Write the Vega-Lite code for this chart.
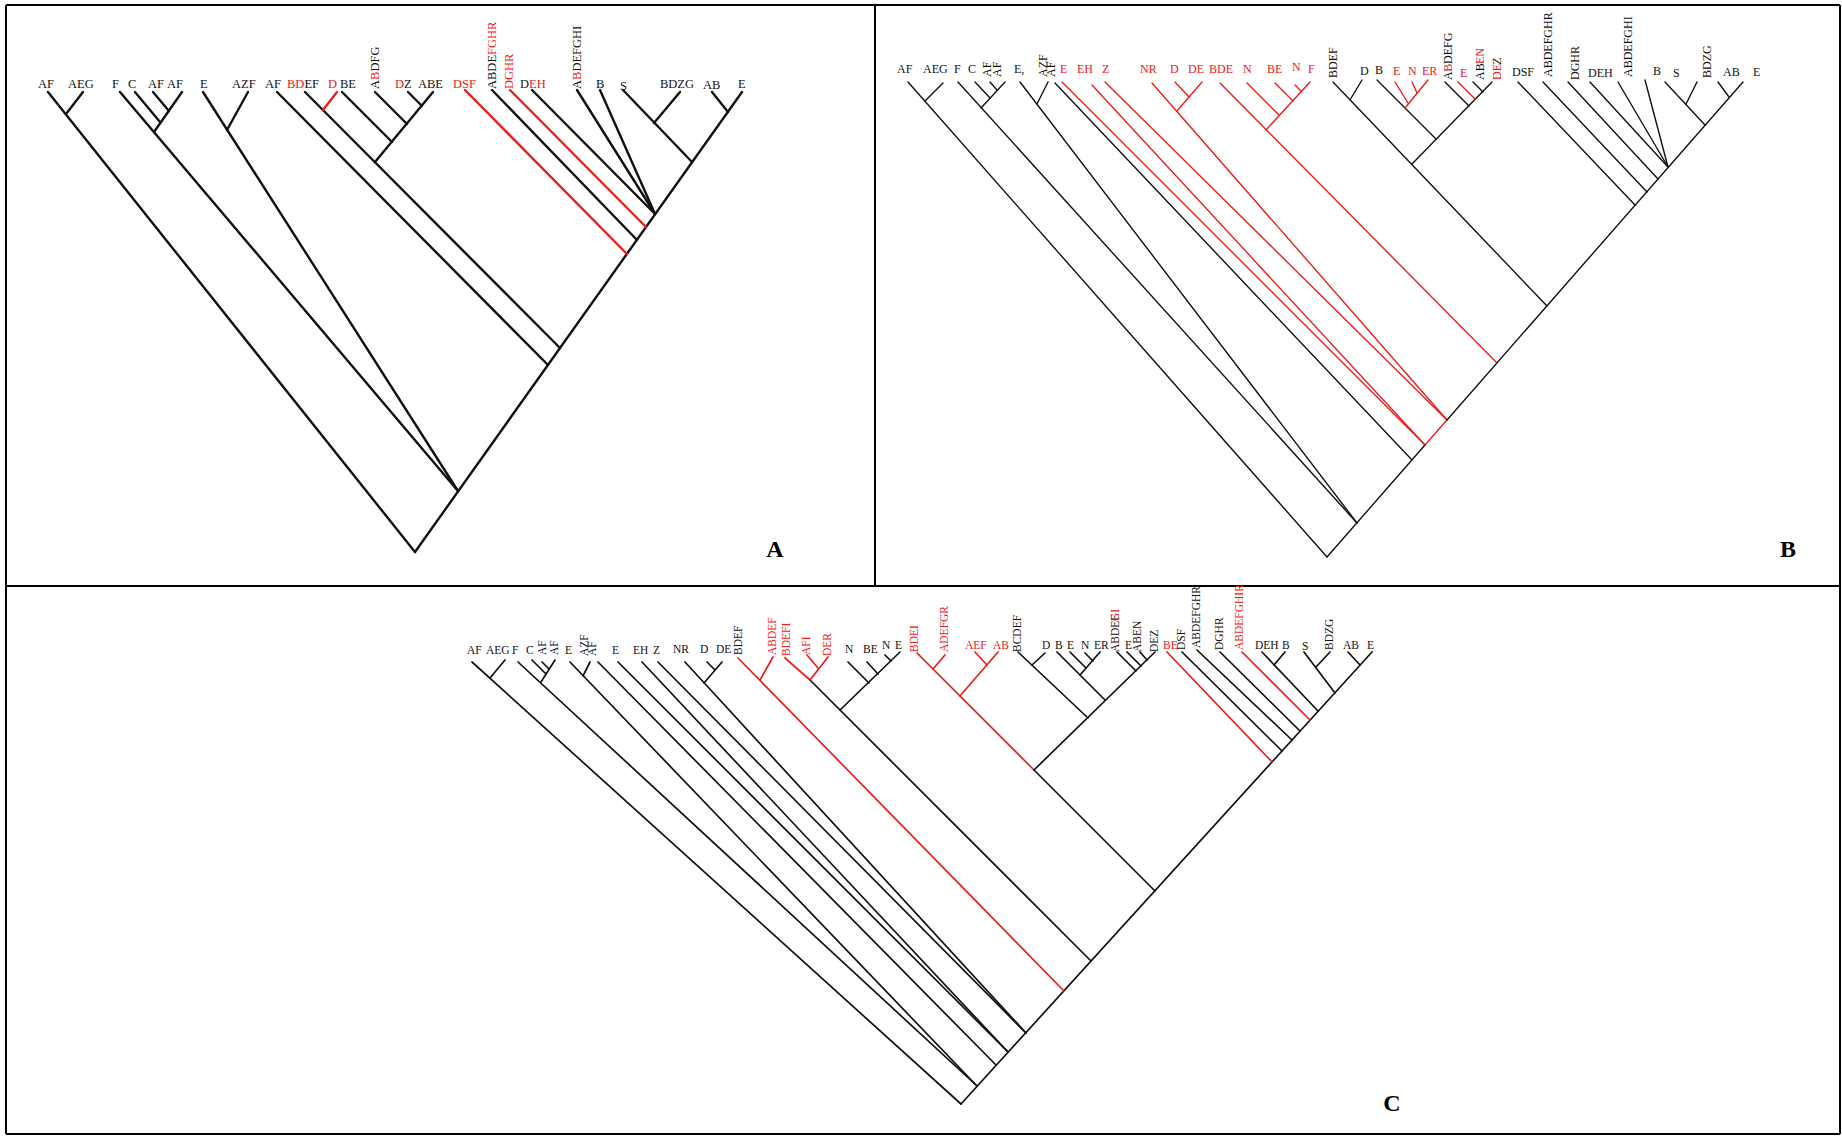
{
"$schema":"https://vega.github.io/schema/vega-lite/v6.json",
"width":1842,"height":1136,
"autosize":{"type":"fit","contains":"padding"},
"padding":0,
"background":"white",
"config":{"view":{"stroke":null}},
"datasets":{
"frame":[
{"x":6,"y":5,"x2":1840,"y2":5},{"x":6,"y":1134,"x2":1840,"y2":1134},
{"x":6,"y":5,"x2":6,"y2":1134},{"x":1840,"y":5,"x2":1840,"y2":1134},
{"x":875,"y":5,"x2":875,"y2":586},{"x":6,"y":586,"x2":1840,"y2":586}
],
"letters":[{"t":"A","x":775,"y":550},{"t":"B","x":1788,"y":550},{"t":"C","x":1392,"y":1104}],
"segs":[
{"p":"A","x":48,"y":92,"x2":415,"y2":552,"c":"k"},
{"p":"A","x":415,"y":552,"x2":742,"y2":92,"c":"k"},
{"p":"A","x":83,"y":92,"x2":66,"y2":114,"c":"k"},
{"p":"A","x":120,"y":92,"x2":458,"y2":491,"c":"k"},
{"p":"A","x":135,"y":92,"x2":160,"y2":122,"c":"k"},
{"p":"A","x":153,"y":92,"x2":169,"y2":111,"c":"k"},
{"p":"A","x":182,"y":92,"x2":154,"y2":132,"c":"k"},
{"p":"A","x":203,"y":92,"x2":458,"y2":491,"c":"k"},
{"p":"A","x":248,"y":92,"x2":227,"y2":130,"c":"k"},
{"p":"A","x":277,"y":92,"x2":548,"y2":365,"c":"k"},
{"p":"A","x":305,"y":92,"x2":560,"y2":348,"c":"k"},
{"p":"A","x":337,"y":92,"x2":323,"y2":110,"c":"r"},
{"p":"A","x":433,"y":92,"x2":375,"y2":162,"c":"k"},
{"p":"A","x":342,"y":92,"x2":392,"y2":142,"c":"k"},
{"p":"A","x":375,"y":92,"x2":407,"y2":124,"c":"k"},
{"p":"A","x":408,"y":92,"x2":422,"y2":106,"c":"k"},
{"p":"A","x":465,"y":90,"x2":627,"y2":254,"c":"r"},
{"p":"A","x":492,"y":90,"x2":637,"y2":240,"c":"k"},
{"p":"A","x":510,"y":90,"x2":646,"y2":227,"c":"r"},
{"p":"A","x":532,"y":90,"x2":655,"y2":214,"c":"k"},
{"p":"A","x":577,"y":90,"x2":655,"y2":214,"c":"k"},
{"p":"A","x":600,"y":90,"x2":655,"y2":214,"c":"k"},
{"p":"A","x":623,"y":90,"x2":692,"y2":162,"c":"k"},
{"p":"A","x":680,"y":92,"x2":654,"y2":123,"c":"k"},
{"p":"A","x":712,"y":92,"x2":728,"y2":112,"c":"k"},
{"p":"B","x":908,"y":82,"x2":1327,"y2":557,"c":"k"},
{"p":"B","x":943,"y":83,"x2":925,"y2":101,"c":"k"},
{"p":"B","x":958,"y":82,"x2":1357,"y2":523,"c":"k"},
{"p":"B","x":975,"y":82,"x2":990,"y2":98,"c":"k"},
{"p":"B","x":990,"y":82,"x2":997,"y2":90,"c":"k"},
{"p":"B","x":1005,"y":82,"x2":981,"y2":108,"c":"k"},
{"p":"B","x":1020,"y":82,"x2":1357,"y2":523,"c":"k"},
{"p":"B","x":1048,"y":82,"x2":1037,"y2":104,"c":"k"},
{"p":"B","x":1055,"y":83,"x2":1412,"y2":460,"c":"k"},
{"p":"B","x":1062,"y":82,"x2":1425,"y2":445,"c":"r"},
{"p":"B","x":1092,"y":85,"x2":1425,"y2":445,"c":"r"},
{"p":"B","x":1105,"y":82,"x2":1447,"y2":420,"c":"r"},
{"p":"B","x":1152,"y":83,"x2":1447,"y2":420,"c":"r"},
{"p":"B","x":1202,"y":82,"x2":1177,"y2":111,"c":"r"},
{"p":"B","x":1175,"y":82,"x2":1189,"y2":97,"c":"r"},
{"p":"B","x":1220,"y":83,"x2":1497,"y2":363,"c":"r"},
{"p":"B","x":1310,"y":82,"x2":1266,"y2":130,"c":"r"},
{"p":"B","x":1247,"y":83,"x2":1279,"y2":115,"c":"r"},
{"p":"B","x":1275,"y":83,"x2":1293,"y2":101,"c":"r"},
{"p":"B","x":1295,"y":85,"x2":1301,"y2":91,"c":"r"},
{"p":"B","x":1333,"y":82,"x2":1547,"y2":306,"c":"k"},
{"p":"B","x":1362,"y":80,"x2":1350,"y2":100,"c":"k"},
{"p":"B","x":1492,"y":82,"x2":1412,"y2":164,"c":"k"},
{"p":"B","x":1377,"y":80,"x2":1436,"y2":139,"c":"k"},
{"p":"B","x":1428,"y":80,"x2":1405,"y2":108,"c":"r"},
{"p":"B","x":1412,"y":82,"x2":1417,"y2":93,"c":"r"},
{"p":"B","x":1395,"y":82,"x2":1408,"y2":103,"c":"r"},
{"p":"B","x":1445,"y":82,"x2":1469,"y2":106,"c":"k"},
{"p":"B","x":1458,"y":82,"x2":1475,"y2":99,"c":"r"},
{"p":"B","x":1473,"y":82,"x2":1483,"y2":92,"c":"k"},
{"p":"B","x":1518,"y":82,"x2":1635,"y2":205,"c":"k"},
{"p":"B","x":1543,"y":82,"x2":1647,"y2":192,"c":"k"},
{"p":"B","x":1568,"y":82,"x2":1658,"y2":179,"c":"k"},
{"p":"B","x":1590,"y":82,"x2":1668,"y2":167,"c":"k"},
{"p":"B","x":1618,"y":82,"x2":1668,"y2":167,"c":"k"},
{"p":"B","x":1645,"y":80,"x2":1668,"y2":167,"c":"k"},
{"p":"B","x":1665,"y":82,"x2":1705,"y2":125,"c":"k"},
{"p":"B","x":1697,"y":82,"x2":1686,"y2":104,"c":"k"},
{"p":"B","x":1718,"y":82,"x2":1729,"y2":97,"c":"k"},
{"p":"B","x":1327,"y":557,"x2":1425,"y2":445,"c":"k"},
{"p":"B","x":1425,"y":445,"x2":1447,"y2":420,"c":"r"},
{"p":"B","x":1447,"y":420,"x2":1743,"y2":82,"c":"k"},
{"p":"C","x":961,"y":1104,"x2":1372,"y2":652,"c":"k"},
{"p":"C","x":472,"y":662,"x2":961,"y2":1104,"c":"k"},
{"p":"C","x":505,"y":660,"x2":490,"y2":678,"c":"k"},
{"p":"C","x":518,"y":662,"x2":977,"y2":1086,"c":"k"},
{"p":"C","x":532,"y":660,"x2":546,"y2":674,"c":"k"},
{"p":"C","x":542,"y":662,"x2":549,"y2":669,"c":"k"},
{"p":"C","x":555,"y":660,"x2":541,"y2":682,"c":"k"},
{"p":"C","x":570,"y":662,"x2":977,"y2":1086,"c":"k"},
{"p":"C","x":590,"y":662,"x2":583,"y2":676,"c":"k"},
{"p":"C","x":598,"y":662,"x2":996,"y2":1065,"c":"k"},
{"p":"C","x":618,"y":662,"x2":1008,"y2":1052,"c":"k"},
{"p":"C","x":642,"y":662,"x2":1008,"y2":1052,"c":"k"},
{"p":"C","x":658,"y":662,"x2":1026,"y2":1033,"c":"k"},
{"p":"C","x":685,"y":662,"x2":1026,"y2":1033,"c":"k"},
{"p":"C","x":722,"y":662,"x2":704,"y2":683,"c":"k"},
{"p":"C","x":707,"y":662,"x2":715,"y2":670,"c":"k"},
{"p":"C","x":738,"y":658,"x2":1064,"y2":991,"c":"r"},
{"p":"C","x":773,"y":657,"x2":760,"y2":680,"c":"r"},
{"p":"C","x":785,"y":658,"x2":810,"y2":680,"c":"r"},
{"p":"C","x":810,"y":680,"x2":1091,"y2":961,"c":"k"},
{"p":"C","x":807,"y":655,"x2":818,"y2":668,"c":"r"},
{"p":"C","x":828,"y":657,"x2":810,"y2":680,"c":"r"},
{"p":"C","x":900,"y":652,"x2":840,"y2":710,"c":"k"},
{"p":"C","x":848,"y":662,"x2":869,"y2":683,"c":"k"},
{"p":"C","x":867,"y":662,"x2":878,"y2":674,"c":"k"},
{"p":"C","x":885,"y":655,"x2":891,"y2":661,"c":"k"},
{"p":"C","x":917,"y":653,"x2":1034,"y2":770,"c":"r"},
{"p":"C","x":1034,"y":770,"x2":1155,"y2":891,"c":"k"},
{"p":"C","x":945,"y":655,"x2":933,"y2":669,"c":"r"},
{"p":"C","x":998,"y":652,"x2":960,"y2":696,"c":"r"},
{"p":"C","x":975,"y":652,"x2":987,"y2":665,"c":"r"},
{"p":"C","x":1155,"y":652,"x2":1034,"y2":770,"c":"k"},
{"p":"C","x":1018,"y":652,"x2":1088,"y2":718,"c":"k"},
{"p":"C","x":1045,"y":653,"x2":1032,"y2":665,"c":"k"},
{"p":"C","x":1057,"y":652,"x2":1105,"y2":700,"c":"k"},
{"p":"C","x":1100,"y":652,"x2":1080,"y2":675,"c":"k"},
{"p":"C","x":1085,"y":653,"x2":1093,"y2":661,"c":"k"},
{"p":"C","x":1070,"y":652,"x2":1086,"y2":668,"c":"k"},
{"p":"C","x":1117,"y":652,"x2":1136,"y2":671,"c":"k"},
{"p":"C","x":1127,"y":652,"x2":1141,"y2":666,"c":"k"},
{"p":"C","x":1140,"y":652,"x2":1147,"y2":660,"c":"k"},
{"p":"C","x":1167,"y":652,"x2":1272,"y2":762,"c":"r"},
{"p":"C","x":1182,"y":652,"x2":1282,"y2":751,"c":"k"},
{"p":"C","x":1197,"y":650,"x2":1292,"y2":740,"c":"k"},
{"p":"C","x":1220,"y":652,"x2":1300,"y2":731,"c":"k"},
{"p":"C","x":1242,"y":652,"x2":1310,"y2":720,"c":"r"},
{"p":"C","x":1262,"y":652,"x2":1318,"y2":711,"c":"k"},
{"p":"C","x":1285,"y":652,"x2":1274,"y2":665,"c":"k"},
{"p":"C","x":1304,"y":652,"x2":1335,"y2":693,"c":"k"},
{"p":"C","x":1330,"y":652,"x2":1316,"y2":667,"c":"k"},
{"p":"C","x":1348,"y":652,"x2":1360,"y2":665,"c":"k"}
],
"labels":[
{"p":"A","t":"AF","x":38,"y":84,"o":"h","c":"k"},
{"p":"A","t":"AEG","x":68,"y":84,"o":"h","c":"k"},
{"p":"A","t":"F","x":112,"y":84,"o":"h","c":"k"},
{"p":"A","t":"C","x":128,"y":84,"o":"h","c":"k"},
{"p":"A","t":"AF","x":148,"y":84,"o":"h","c":"k"},
{"p":"A","t":"AF","x":167,"y":84,"o":"h","c":"k"},
{"p":"A","t":"E","x":200,"y":84,"o":"h","c":"k"},
{"p":"A","t":"AZF","x":232,"y":84,"o":"h","c":"k"},
{"p":"A","t":"AF","x":265,"y":84,"o":"h","c":"k"},
{"p":"A","t":"BD","x":287,"y":84,"o":"h","c":"r"},
{"p":"A","t":"EF","x":304.4,"y":84,"o":"h","c":"k"},
{"p":"A","t":"D","x":328,"y":84,"o":"h","c":"r"},
{"p":"A","t":"BE","x":340,"y":84,"o":"h","c":"k"},
{"p":"A","t":"A","x":375,"y":89,"o":"v","c":"k"},
{"p":"A","t":"B","x":375,"y":80,"o":"v","c":"r"},
{"p":"A","t":"DFG","x":375,"y":71.6,"o":"v","c":"k"},
{"p":"A","t":"D","x":395,"y":84,"o":"h","c":"r"},
{"p":"A","t":"Z","x":404,"y":84,"o":"h","c":"k"},
{"p":"A","t":"ABE","x":418,"y":84,"o":"h","c":"k"},
{"p":"A","t":"DSF","x":453,"y":84,"o":"h","c":"r"},
{"p":"A","t":"ABDE","x":492,"y":89,"o":"v","c":"k"},
{"p":"A","t":"FGHR","x":492,"y":55,"o":"v","c":"r"},
{"p":"A","t":"DGHR","x":509,"y":89,"o":"v","c":"r"},
{"p":"A","t":"D","x":520,"y":84,"o":"h","c":"k"},
{"p":"A","t":"EH","x":529,"y":84,"o":"h","c":"r"},
{"p":"A","t":"A","x":577,"y":89,"o":"v","c":"k"},
{"p":"A","t":"B","x":577,"y":80,"o":"v","c":"r"},
{"p":"A","t":"DEFGHI","x":577,"y":71.6,"o":"v","c":"k"},
{"p":"A","t":"B","x":596,"y":84,"o":"h","c":"k"},
{"p":"A","t":"S","x":620,"y":86,"o":"h","c":"k"},
{"p":"A","t":"BDZG","x":660,"y":84,"o":"h","c":"k"},
{"p":"A","t":"AB","x":703,"y":85,"o":"h","c":"k"},
{"p":"A","t":"E","x":738,"y":84,"o":"h","c":"k"},
{"p":"B","t":"AF","x":897,"y":69,"o":"h","c":"k"},
{"p":"B","t":"AEG","x":923,"y":69,"o":"h","c":"k"},
{"p":"B","t":"F","x":954,"y":69,"o":"h","c":"k"},
{"p":"B","t":"C","x":968,"y":69,"o":"h","c":"k"},
{"p":"B","t":"AF","x":987,"y":77,"o":"v","c":"k"},
{"p":"B","t":"AF","x":997,"y":77,"o":"v","c":"k"},
{"p":"B","t":"E,","x":1014,"y":69,"o":"h","c":"k"},
{"p":"B","t":"AZF","x":1043,"y":77,"o":"v","c":"k"},
{"p":"B","t":"AF","x":1051,"y":77,"o":"v","c":"k"},
{"p":"B","t":"E","x":1060,"y":69,"o":"h","c":"r"},
{"p":"B","t":"EH","x":1077,"y":69,"o":"h","c":"r"},
{"p":"B","t":"Z","x":1102,"y":69,"o":"h","c":"r"},
{"p":"B","t":"NR","x":1140,"y":69,"o":"h","c":"r"},
{"p":"B","t":"D","x":1170,"y":69,"o":"h","c":"r"},
{"p":"B","t":"DE","x":1188,"y":69,"o":"h","c":"r"},
{"p":"B","t":"BDE","x":1209,"y":69,"o":"h","c":"r"},
{"p":"B","t":"N","x":1243,"y":69,"o":"h","c":"r"},
{"p":"B","t":"BE","x":1267,"y":69,"o":"h","c":"r"},
{"p":"B","t":"N","x":1292,"y":67,"o":"h","c":"r"},
{"p":"B","t":"F","x":1308,"y":69,"o":"h","c":"r"},
{"p":"B","t":"BDEF","x":1333,"y":78,"o":"v","c":"k"},
{"p":"B","t":"D","x":1360,"y":71,"o":"h","c":"k"},
{"p":"B","t":"B","x":1375,"y":70,"o":"h","c":"k"},
{"p":"B","t":"E","x":1393,"y":71,"o":"h","c":"r"},
{"p":"B","t":"N","x":1408,"y":71,"o":"h","c":"r"},
{"p":"B","t":"ER","x":1422,"y":71,"o":"h","c":"r"},
{"p":"B","t":"A","x":1448,"y":80,"o":"v","c":"k"},
{"p":"B","t":"B","x":1448,"y":71.7,"o":"v","c":"r"},
{"p":"B","t":"DEFG","x":1448,"y":64,"o":"v","c":"k"},
{"p":"B","t":"E","x":1460,"y":73,"o":"h","c":"r"},
{"p":"B","t":"AB","x":1480,"y":80,"o":"v","c":"k"},
{"p":"B","t":"EN","x":1480,"y":64,"o":"v","c":"r"},
{"p":"B","t":"DE","x":1497,"y":80,"o":"v","c":"r"},
{"p":"B","t":"Z","x":1497,"y":64.7,"o":"v","c":"k"},
{"p":"B","t":"DSF","x":1512,"y":72,"o":"h","c":"k"},
{"p":"B","t":"ABDEFGHR","x":1548,"y":77,"o":"v","c":"k"},
{"p":"B","t":"DGHR","x":1575,"y":80,"o":"v","c":"k"},
{"p":"B","t":"DEH","x":1588,"y":73,"o":"h","c":"k"},
{"p":"B","t":"ABDEFGHI","x":1628,"y":77,"o":"v","c":"k"},
{"p":"B","t":"B","x":1653,"y":71,"o":"h","c":"k"},
{"p":"B","t":"S","x":1673,"y":73,"o":"h","c":"k"},
{"p":"B","t":"BDZG","x":1707,"y":78,"o":"v","c":"k"},
{"p":"B","t":"AB","x":1723,"y":72,"o":"h","c":"k"},
{"p":"B","t":"E","x":1753,"y":72,"o":"h","c":"k"},
{"p":"C","t":"AF","x":467,"y":651,"o":"h","c":"k"},
{"p":"C","t":"AEG","x":486,"y":651,"o":"h","c":"k"},
{"p":"C","t":"F","x":512,"y":651,"o":"h","c":"k"},
{"p":"C","t":"C","x":526,"y":651,"o":"h","c":"k"},
{"p":"C","t":"AF","x":543,"y":655,"o":"v","c":"k"},
{"p":"C","t":"AF","x":555,"y":655,"o":"v","c":"k"},
{"p":"C","t":"E","x":565,"y":651,"o":"h","c":"k"},
{"p":"C","t":"AZF","x":585,"y":656,"o":"v","c":"k"},
{"p":"C","t":"AF","x":593,"y":656,"o":"v","c":"k"},
{"p":"C","t":"E","x":612,"y":651,"o":"h","c":"k"},
{"p":"C","t":"EH","x":633,"y":651,"o":"h","c":"k"},
{"p":"C","t":"Z","x":653,"y":651,"o":"h","c":"k"},
{"p":"C","t":"NR","x":673,"y":650,"o":"h","c":"k"},
{"p":"C","t":"D","x":700,"y":650,"o":"h","c":"k"},
{"p":"C","t":"DE","x":716,"y":650,"o":"h","c":"k"},
{"p":"C","t":"BDEF","x":739,"y":655,"o":"v","c":"k"},
{"p":"C","t":"ABDEF","x":773,"y":655,"o":"v","c":"r"},
{"p":"C","t":"BDEFI","x":787,"y":656,"o":"v","c":"r"},
{"p":"C","t":"AFI","x":807,"y":655,"o":"v","c":"r"},
{"p":"C","t":"DER","x":828,"y":656,"o":"v","c":"r"},
{"p":"C","t":"N","x":845,"y":650,"o":"h","c":"k"},
{"p":"C","t":"BE","x":863,"y":650,"o":"h","c":"k"},
{"p":"C","t":"N","x":882,"y":646,"o":"h","c":"k"},
{"p":"C","t":"E","x":895,"y":646,"o":"h","c":"k"},
{"p":"C","t":"BDEI","x":915,"y":652,"o":"v","c":"r"},
{"p":"C","t":"ADEFGR","x":945,"y":652,"o":"v","c":"r"},
{"p":"C","t":"AEF","x":965,"y":646,"o":"h","c":"r"},
{"p":"C","t":"AB","x":993,"y":646,"o":"h","c":"r"},
{"p":"C","t":"BCDEF","x":1018,"y":652,"o":"v","c":"k"},
{"p":"C","t":"D","x":1042,"y":646,"o":"h","c":"k"},
{"p":"C","t":"B","x":1055,"y":646,"o":"h","c":"k"},
{"p":"C","t":"E","x":1067,"y":646,"o":"h","c":"k"},
{"p":"C","t":"N","x":1081,"y":646,"o":"h","c":"k"},
{"p":"C","t":"ER","x":1094,"y":646,"o":"h","c":"k"},
{"p":"C","t":"ABDEF","x":1116,"y":652,"o":"v","c":"k"},
{"p":"C","t":"GI","x":1116,"y":621,"o":"v","c":"r"},
{"p":"C","t":"E","x":1125,"y":646,"o":"h","c":"k"},
{"p":"C","t":"ABEN","x":1138,"y":652,"o":"v","c":"k"},
{"p":"C","t":"DEZ","x":1155,"y":652,"o":"v","c":"k"},
{"p":"C","t":"BE","x":1163,"y":646,"o":"h","c":"r"},
{"p":"C","t":"DSF","x":1182,"y":650,"o":"v","c":"k"},
{"p":"C","t":"ABDEFGHR","x":1197,"y":648,"o":"v","c":"k"},
{"p":"C","t":"DGHR","x":1220,"y":650,"o":"v","c":"k"},
{"p":"C","t":"ABDEFGHIR","x":1240,"y":650,"o":"v","c":"r"},
{"p":"C","t":"DEH","x":1255,"y":646,"o":"h","c":"k"},
{"p":"C","t":"B","x":1282,"y":646,"o":"h","c":"k"},
{"p":"C","t":"S","x":1302,"y":647,"o":"h","c":"k"},
{"p":"C","t":"BDZG","x":1330,"y":650,"o":"v","c":"k"},
{"p":"C","t":"AB","x":1343,"y":646,"o":"h","c":"k"},
{"p":"C","t":"E","x":1367,"y":646,"o":"h","c":"k"}
]
},
"layer":[
{"data":{"name":"frame"},"mark":{"type":"rule","color":"black","strokeWidth":2},
 "encoding":{
  "x":{"field":"x","type":"quantitative","scale":{"domain":[0,1842],"nice":false,"zero":false},"axis":null},
  "y":{"field":"y","type":"quantitative","scale":{"domain":[0,1136],"nice":false,"zero":false,"reverse":true},"axis":null},
  "x2":{"field":"x2"},"y2":{"field":"y2"}}},
{"data":{"name":"segs"},"transform":[{"filter":"datum.p === 'A'"}],"mark":{"type":"rule","strokeWidth":2.4,"strokeCap":"round"},
 "encoding":{
  "x":{"field":"x","type":"quantitative","axis":null},
  "y":{"field":"y","type":"quantitative","axis":null},
  "x2":{"field":"x2"},"y2":{"field":"y2"},
  "color":{"field":"c","type":"nominal","scale":{"domain":["k","r"],"range":["#111111","#e8201c"]},"legend":null}}},
{"data":{"name":"segs"},"transform":[{"filter":"datum.p === 'B'"}],"mark":{"type":"rule","strokeWidth":1.4,"strokeCap":"round"},
 "encoding":{
  "x":{"field":"x","type":"quantitative","axis":null},
  "y":{"field":"y","type":"quantitative","axis":null},
  "x2":{"field":"x2"},"y2":{"field":"y2"},
  "color":{"field":"c","type":"nominal","legend":null}}},
{"data":{"name":"segs"},"transform":[{"filter":"datum.p === 'C'"}],"mark":{"type":"rule","strokeWidth":1.7,"strokeCap":"round"},
 "encoding":{
  "x":{"field":"x","type":"quantitative","axis":null},
  "y":{"field":"y","type":"quantitative","axis":null},
  "x2":{"field":"x2"},"y2":{"field":"y2"},
  "color":{"field":"c","type":"nominal","legend":null}}},
{"data":{"name":"labels"},"transform":[{"filter":"datum.o === 'h'"}],
 "mark":{"type":"text","font":"Liberation Serif","align":"left","baseline":"middle"},
 "encoding":{"x":{"field":"x","type":"quantitative","axis":null},"y":{"field":"y","type":"quantitative","axis":null},
  "text":{"field":"t"},"color":{"field":"c","type":"nominal","legend":null},
  "size":{"field":"p","type":"ordinal","scale":{"domain":["A","B","C"],"range":[12.5,11.5,9.6]},"legend":null}}},
{"data":{"name":"labels"},"transform":[{"filter":"datum.o === 'v'"}],
 "mark":{"type":"text","font":"Liberation Serif","align":"left","baseline":"middle","angle":270},
 "encoding":{"x":{"field":"x","type":"quantitative","axis":null},"y":{"field":"y","type":"quantitative","axis":null},
  "text":{"field":"t"},"color":{"field":"c","type":"nominal","legend":null},
  "size":{"field":"p","type":"ordinal","legend":null}}},
{"data":{"name":"letters"},
 "mark":{"type":"text","font":"Liberation Serif","fontWeight":"bold","fontSize":24,"align":"center","baseline":"middle","color":"black"},
 "encoding":{"x":{"field":"x","type":"quantitative","axis":null},"y":{"field":"y","type":"quantitative","axis":null},"text":{"field":"t"}}}
]
}
